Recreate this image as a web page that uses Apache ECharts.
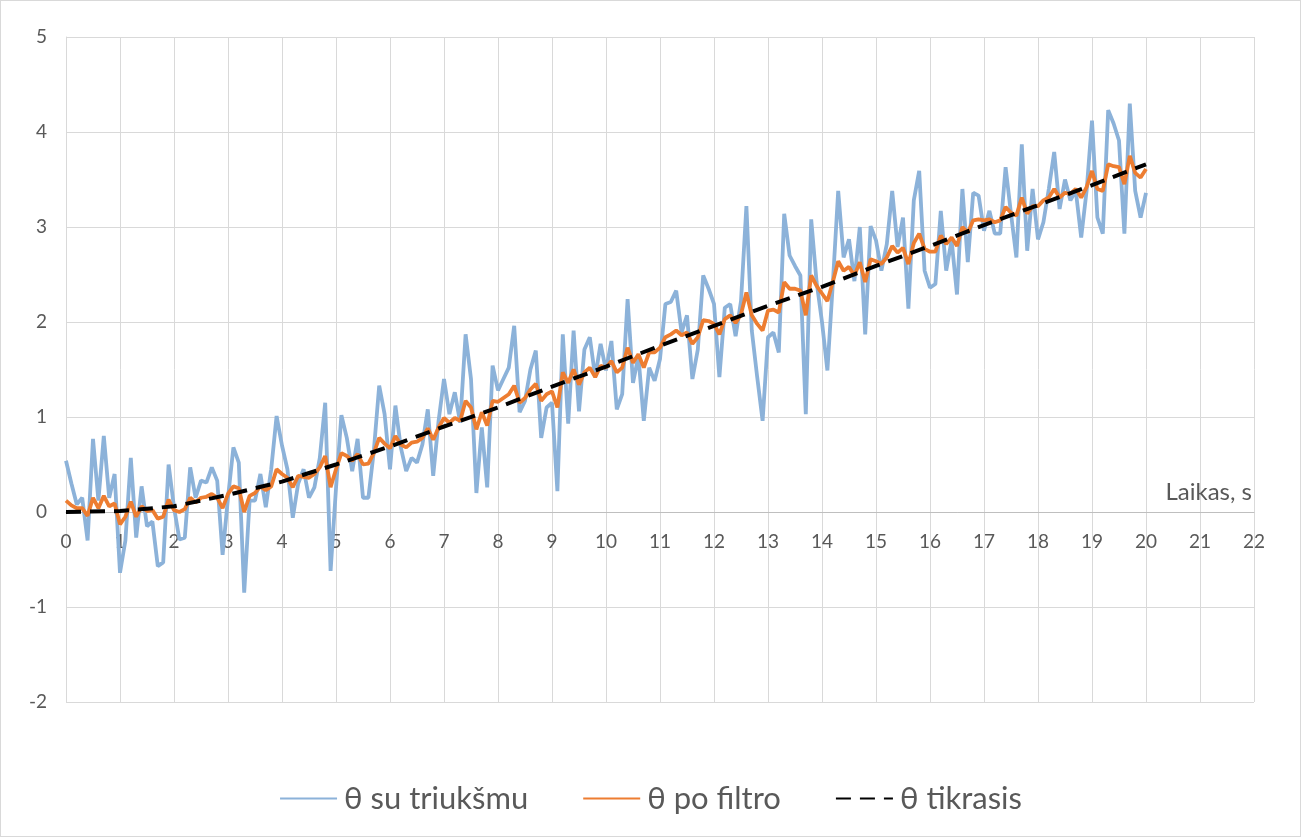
<!DOCTYPE html>
<html>
<head>
<meta charset="utf-8">
<script src="https://cdn.jsdelivr.net/npm/echarts@6/dist/echarts.min.js"></script>
<style>
html,body{margin:0;padding:0;background:#fff;}
#wrap{width:1301px;height:837px;box-sizing:border-box;border:1px solid #d9d9d9;}
#chart{width:100%;height:100%;}
</style>
</head>
<body>
<div id="wrap"><div id="chart"></div></div>
<script>
// Sampling times (s)
const times = [0,0.1,0.2,0.3,0.4,0.5,0.6,0.7,0.8,0.9,1,1.1,1.2,1.3,1.4,1.5,1.6,1.7,1.8,1.9,2,2.1,2.2,2.3,2.4,2.5,2.6,2.7,2.8,2.9,3,3.1,3.2,3.3,3.4,3.5,3.6,3.7,3.8,3.9,4,4.1,4.2,4.3,4.4,4.5,4.6,4.7,4.8,4.9,5,5.1,5.2,5.3,5.4,5.5,5.6,5.7,5.8,5.9,6,6.1,6.2,6.3,6.4,6.5,6.6,6.7,6.8,6.9,7,7.1,7.2,7.3,7.4,7.5,7.6,7.7,7.8,7.9,8,8.1,8.2,8.3,8.4,8.5,8.6,8.7,8.8,8.9,9,9.1,9.2,9.3,9.4,9.5,9.6,9.7,9.8,9.9,10,10.1,10.2,10.3,10.4,10.5,10.6,10.7,10.8,10.9,11,11.1,11.2,11.3,11.4,11.5,11.6,11.7,11.8,11.9,12,12.1,12.2,12.3,12.4,12.5,12.6,12.7,12.8,12.9,13,13.1,13.2,13.3,13.4,13.5,13.6,13.7,13.8,13.9,14,14.1,14.2,14.3,14.4,14.5,14.6,14.7,14.8,14.9,15,15.1,15.2,15.3,15.4,15.5,15.6,15.7,15.8,15.9,16,16.1,16.2,16.3,16.4,16.5,16.6,16.7,16.8,16.9,17,17.1,17.2,17.3,17.4,17.5,17.6,17.7,17.8,17.9,18,18.1,18.2,18.3,18.4,18.5,18.6,18.7,18.8,18.9,19,19.1,19.2,19.3,19.4,19.5,19.6,19.7,19.8,19.9,20];

// θ su triukšmu (noisy)
const noisy = [0.54,0.30,0.08,0.15,-0.30,0.77,0.12,0.80,0.15,0.40,
-0.64,-0.30,0.57,-0.27,0.27,-0.15,-0.10,-0.57,-0.53,0.50,
0.05,-0.29,-0.27,0.47,0.15,0.33,0.31,0.47,0.33,-0.45,
0.15,0.68,0.52,-0.85,0.12,0.12,0.40,0.05,0.45,1.01,
0.70,0.45,-0.06,0.30,0.45,0.15,0.26,0.57,1.15,-0.62,
0.25,1.02,0.78,0.43,0.77,0.15,0.15,0.64,1.33,1.03,
0.45,1.12,0.68,0.43,0.57,0.52,0.71,1.08,0.38,0.96,
1.40,1.03,1.26,0.94,1.87,1.40,0.20,0.89,0.26,1.54,
1.28,1.40,1.52,1.96,1.05,1.17,1.50,1.70,0.78,1.10,
1.15,0.22,1.87,0.93,1.91,1.06,1.71,1.84,1.42,1.77,
1.49,1.80,1.08,1.24,2.24,1.36,1.64,0.96,1.52,1.38,
1.61,2.19,2.21,2.33,1.89,2.07,1.40,1.71,2.49,2.35,
2.19,1.42,2.15,2.19,1.85,2.22,3.22,1.91,1.42,0.96,
1.84,1.89,1.68,3.14,2.70,2.59,2.49,1.03,3.08,2.42,
2.00,1.49,2.40,3.38,2.68,2.87,2.43,3.00,1.87,3.01,
2.86,2.54,2.82,3.38,2.79,3.10,2.14,3.28,3.59,2.54,
2.36,2.40,3.17,2.54,2.86,2.29,3.40,2.63,3.36,3.33,
2.96,3.17,2.93,2.93,3.63,3.14,2.68,3.87,2.75,3.40,
2.87,3.05,3.40,3.79,3.19,3.50,3.28,3.38,2.89,3.38,
4.12,3.10,2.93,4.23,4.09,3.91,2.93,4.30,3.38,3.10,
3.36];

// θ po filtro (filtered)
const filtered = [0.12,0.07,0.04,0.04,-0.04,0.15,0.04,0.17,0.06,0.09,
-0.13,-0.05,0.11,-0.05,0.06,0.01,0.02,-0.07,-0.05,0.13,
0.02,0.00,0.03,0.15,0.10,0.15,0.16,0.19,0.15,0.04,
0.19,0.27,0.25,0.00,0.17,0.20,0.27,0.23,0.27,0.45,
0.40,0.36,0.26,0.38,0.37,0.36,0.40,0.47,0.59,0.26,
0.45,0.62,0.59,0.54,0.61,0.50,0.51,0.62,0.78,0.72,
0.67,0.80,0.71,0.68,0.73,0.74,0.78,0.88,0.76,0.89,
0.99,0.94,0.99,0.96,1.17,1.10,0.87,1.05,0.91,1.17,
1.16,1.20,1.24,1.33,1.15,1.20,1.29,1.35,1.17,1.24,
1.27,1.10,1.47,1.36,1.50,1.34,1.47,1.52,1.42,1.54,
1.52,1.59,1.47,1.52,1.73,1.57,1.66,1.52,1.68,1.68,
1.73,1.84,1.87,1.91,1.86,1.89,1.77,1.84,2.02,2.01,
1.98,1.87,2.03,2.07,1.99,2.08,2.31,2.07,1.98,1.91,
2.12,2.13,2.10,2.42,2.35,2.35,2.33,2.07,2.49,2.38,
2.30,2.22,2.42,2.64,2.54,2.58,2.49,2.63,2.42,2.66,
2.64,2.61,2.68,2.80,2.73,2.78,2.61,2.83,2.93,2.77,
2.74,2.74,2.91,2.82,2.89,2.80,3.00,2.94,3.07,3.08,
3.07,3.08,3.05,3.07,3.21,3.15,3.12,3.31,3.14,3.22,
3.22,3.28,3.31,3.40,3.31,3.36,3.35,3.40,3.31,3.42,
3.59,3.40,3.38,3.66,3.64,3.63,3.45,3.75,3.57,3.52,
3.61];

// θ tikrasis (true)
const trueTimes = [0,1,2,3,4,5,6,7,8,9,10,11,12,13,14,15,16,17,18,19,20];
const trueVals  = [0,0.01,0.06,0.18,0.32,0.50,0.69,0.90,1.10,1.32,1.53,1.75,1.96,2.17,2.37,2.59,2.80,3.02,3.23,3.44,3.66];

const xTicks = {min:0, max:22, interval:1};
const yTicks = {min:-2, max:5, interval:1};
const seriesNames = ['θ su triukšmu','θ po filtro','θ tikrasis'];
const xAxisName = 'Laikas, s';

const pair = (xs, ys) => xs.map((x, i) => [x, ys[i]]);
const FONT = 'Lato, "Liberation Sans", sans-serif';
const TXT = '#595959';

const W = 1299, H = 835;
const G = {left:65, right:46, top:36, bottom:134};
// put the x axis (line, labels, name) where y = 0 crosses the plot
const plotH = H - G.top - G.bottom;
const zeroOffset = -plotH * (0 - yTicks.min) / (yTicks.max - yTicks.min);

const chart = echarts.init(document.getElementById('chart'), null, {renderer:'canvas'});
chart.setOption({
  animation:false,
  backgroundColor:'#fff',
  grid:Object.assign({containLabel:false}, G),
  legend:{
    bottom:17, left:'center', itemWidth:57, itemHeight:14, itemGap:54,
    itemStyle:{opacity:0, color:'rgba(0,0,0,0)', borderWidth:0},
    textStyle:{fontFamily:FONT, fontSize:31, color:TXT, padding:[0,0,0,2]},
    data:seriesNames
  },
  xAxis:{
    type:'value', min:xTicks.min, max:xTicks.max, interval:xTicks.interval,
    offset:zeroOffset,
    name:xAxisName, nameLocation:'end', nameGap:0,
    nameTextStyle:{fontFamily:FONT, fontSize:24, color:TXT, align:'right', verticalAlign:'bottom', padding:[0,2,8,0]},
    axisLine:{show:true, onZero:false, lineStyle:{color:'#bfbfbf', width:1}},
    axisTick:{show:false},
    axisLabel:{fontFamily:FONT, fontSize:19, color:TXT, margin:20},
    splitLine:{show:true, lineStyle:{color:'#d9d9d9', width:1}}
  },
  yAxis:{
    type:'value', min:yTicks.min, max:yTicks.max, interval:yTicks.interval,
    axisLine:{show:true, onZero:false, lineStyle:{color:'#d9d9d9', width:1}},
    axisTick:{show:false},
    axisLabel:{fontFamily:FONT, fontSize:19, color:TXT, margin:19},
    splitLine:{show:true, lineStyle:{color:'#d9d9d9', width:1}}
  },
  series:[
    {name:seriesNames[0], type:'line', data:pair(times, noisy), showSymbol:false, symbol:'none',
     lineStyle:{color:'#8cb2d9', width:3.8}, itemStyle:{color:'#8cb2d9'}, z:2},
    {name:seriesNames[1], type:'line', data:pair(times, filtered), showSymbol:false, symbol:'none',
     lineStyle:{color:'#ed7d31', width:3.8}, itemStyle:{color:'#ed7d31'}, z:3},
    {name:seriesNames[2], type:'line', data:pair(trueTimes, trueVals), showSymbol:false, symbol:'none',
     lineStyle:{color:'#000000', width:4, type:[15,9]}, itemStyle:{color:'#000000'}, z:4}
  ]
});
</script>
</body>
</html>
